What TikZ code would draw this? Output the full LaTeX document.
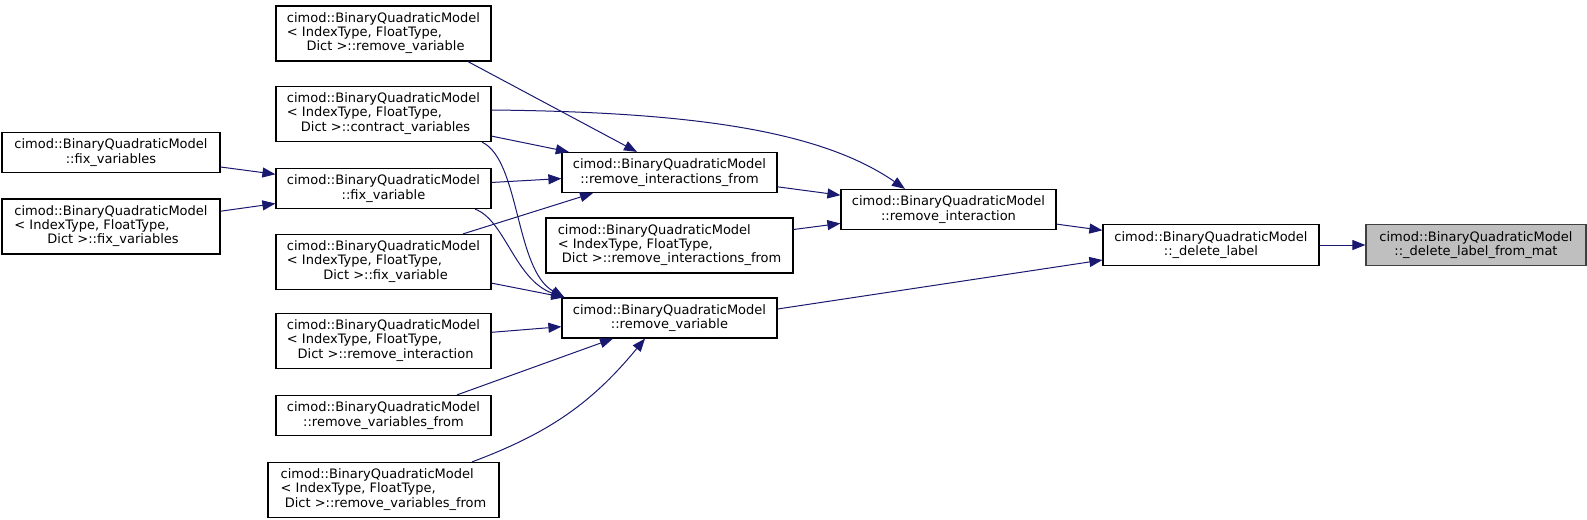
\documentclass[tikz,border=0pt]{standalone}
\usepackage{fontspec}
\setmainfont{DejaVu Sans}
\usetikzlibrary{arrows.meta}
\definecolor{cedge}{HTML}{191970}
\definecolor{cframe}{HTML}{404040}
\definecolor{cfill}{HTML}{BFBFBF}
\newcommand{\bqm}{cimod::BinaryQuadraticModel}
\newcommand{\bqmtmpl}[1]{\begin{tabular}{@{}l@{}}\bqm\\< IndexType, FloatType,\\\multicolumn{1}{@{}c@{}}{\ Dict >::#1}\end{tabular}}
\tikzset{
  every picture/.style={line width=0.5pt},
  fn/.style={draw=black, line width=0.6pt, fill=white, inner sep=0pt, align=center,
    font=\fontsize{6.5}{7.1}\selectfont, minimum width=107.5pt, minimum height=20pt},
  fn3/.style={fn, minimum height=27.5pt},
  root/.style={fn, draw=cframe, fill=cfill},
  call/.style={-{Triangle[length=6.5pt, width=5pt]}, draw=cedge, line width=0.5pt},
}

\begin{document}
\begin{tikzpicture}[x=0.5pt, y=-0.5pt]
  \useasboundingbox (0,0) rectangle (1587,520);
  % callers of fix_variable
  \node[fn, minimum width=109pt] (a1) at (111,152.5) {\bqm\\::fix\_variables};
  \node[fn3, minimum width=109pt] (a2) at (111,226.5) {\bqmtmpl{fix\_variables}};
  % second column
  \node[fn3] (b1) at (383.5,33.5) {\bqmtmpl{remove\_variable}};
  \node[fn3] (b2) at (383.5,114) {\bqmtmpl{contract\_variables}};
  \node[fn] (b3) at (383.5,188.5) {\bqm\\::fix\_variable};
  \node[fn3] (b4) at (383.5,262) {\bqmtmpl{fix\_variable}};
  \node[fn3] (b5) at (383.5,341) {\bqmtmpl{remove\_interaction}};
  \node[fn] (b6) at (383.5,415.5) {\bqm\\::remove\_variables\_from};
  \node[fn3, minimum width=115.5pt] (b7) at (383.5,490) {\bqmtmpl{remove\_variables\_from}};
  % third column
  \node[fn] (c1) at (669.5,172.5) {\bqm\\::remove\_interactions\_from};
  \node[fn3, minimum width=123.5pt] (c2) at (669.5,245.5) {\bqmtmpl{remove\_interactions\_from}};
  \node[fn] (c3) at (669.5,318) {\bqm\\::remove\_variable};
  \node[fn] (d1) at (948.5,209.5) {\bqm\\::remove\_interaction};
  \node[fn, minimum width=108pt, minimum height=20.5pt] (e) at (1211,245) {\bqm\\::\_delete\_label};
  \node[root, minimum width=110pt, minimum height=20.5pt] (f) at (1476,245) {\bqm\\::\_delete\_label\_from\_mat};

  \draw[call] (e) -- (f);
  \draw[call] (d1) -- (e);
  \draw[call] ([yshift=4.5pt]c3.east) -- ([yshift=-7.5pt]e.west);
  \draw[call] (c1) -- (d1);
  \draw[call] (c2) -- (d1);
  \draw[call] ([xshift=42.25pt]b1.south) -- ([xshift=-16.25pt]c1.north);
  \draw[call] ([yshift=2pt]b2.east) .. controls (690,112) and (820,130) .. ([xshift=-21.75pt]d1.north);
  \draw[call] (b2) -- (c1);
  \draw[call] (b3) -- (c1);
  \draw[call] ([xshift=39.75pt]b4.north) -- ([xshift=-38.25pt]c1.south);
  \draw[call] ([xshift=49.25pt]b2.south) .. controls (520,160) and (515,270) .. ([xshift=1.5pt]c3.north west);
  \draw[call] ([xshift=45.75pt]b3.south) .. controls (505,220) and (515,280) .. ([xshift=1.5pt]c3.north west);
  \draw[call] (b4) -- (c3);
  \draw[call] (b5) -- (c3);
  \draw[call] ([xshift=36.75pt]b6.north) -- ([xshift=-28.25pt]c3.south);
  \draw[call] ([xshift=44.25pt]b7.north) to[bend right=15] ([xshift=-12.25pt]c3.south);
  \draw[call] (a1) -- (b3);
  \draw[call] (a2) -- (b3);
\end{tikzpicture}
\end{document}
